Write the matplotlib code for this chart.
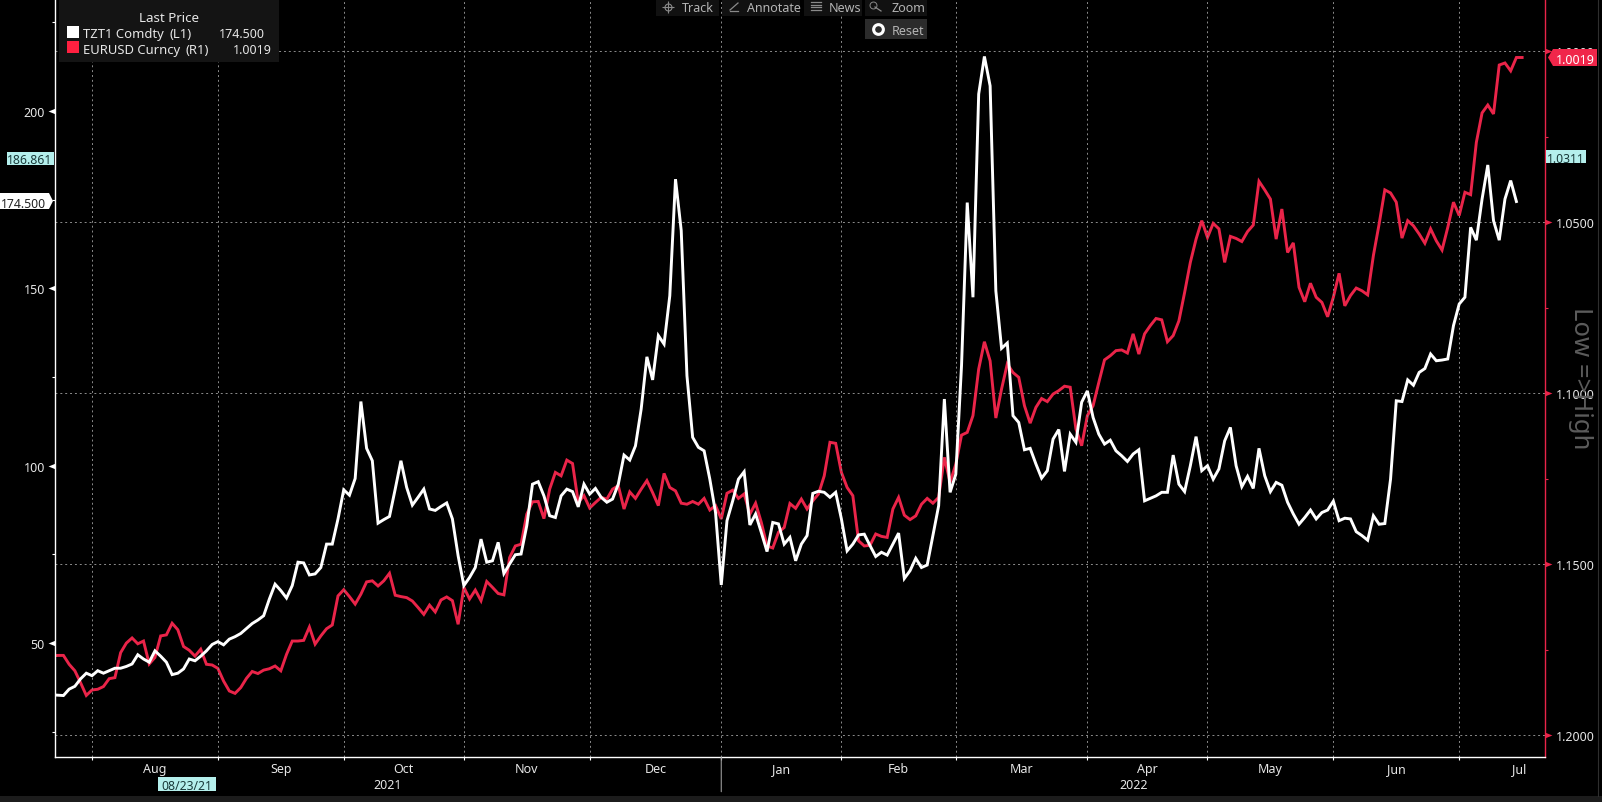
# TZT1 Comdty vs EURUSD Curncy, Bloomberg style chart
import pandas as pd
import matplotlib
matplotlib.use("Agg")
import matplotlib.pyplot as plt
from matplotlib.patches import Polygon, Rectangle

# --- DATA ---
START_DATE = '2021-07-22'
tzt1 = [
    35.4, 35.3, 35.2, 37.0, 37.8, 39.9, 41.5, 40.8, 42.2, 41.5,
    42.2, 42.9, 42.9, 43.4, 44.1, 46.7, 45.5, 44.6, 47.8, 46.3,
    44.6, 41.1, 41.5, 42.7, 45.5, 45.0, 46.3, 47.8, 49.6, 50.4,
    49.5, 51.1, 51.8, 52.7, 54.1, 55.5, 56.5, 57.7, 62.4, 66.6,
    64.8, 62.7, 66.2, 72.8, 72.6, 69.2, 69.5, 71.3, 77.9, 77.9,
    85.0, 93.2, 91.7, 96.4, 118.1, 104.9, 101.4, 83.8, 84.8, 85.7,
    93.4, 101.4, 93.9, 88.9, 91.1, 93.4, 87.8, 87.4, 88.5, 89.5,
    85.0, 74.6, 66.2, 68.5, 71.3, 79.3, 72.8, 73.2, 78.4, 69.6,
    72.3, 74.9, 75.1, 83.1, 94.8, 95.5, 91.5, 85.9, 85.4, 91.5,
    93.4, 92.7, 88.4, 94.8, 92.0, 93.6, 91.1, 89.7, 90.6, 94.8,
    103.0, 101.6, 105.6, 116.0, 130.7, 124.2, 136.7, 134.3, 147.9, 180.8,
    166.3, 125.4, 108.0, 105.2, 104.2, 96.2, 86.8, 66.4, 84.5, 90.1,
    96.2, 98.3, 83.3, 86.4, 81.2, 75.8, 84.0, 83.6, 77.9, 79.8,
    73.2, 77.9, 80.3, 92.2, 92.8, 92.5, 91.1, 92.5, 85.0, 76.0,
    77.9, 80.5, 80.7, 77.5, 74.4, 75.6, 74.8, 77.9, 81.0, 68.2,
    70.4, 73.9, 71.3, 72.0, 80.3, 88.7, 118.8, 92.5, 97.6, 128.2,
    174.2, 147.5, 204.8, 215.4, 207.1, 149.3, 133.1, 134.6, 114.1, 112.2,
    104.5, 104.9, 100.5, 96.5, 98.6, 107.5, 110.2, 98.4, 108.9, 106.6,
    117.9, 121.1, 113.6, 108.9, 106.1, 107.2, 104.2, 102.8, 101.2, 103.3,
    104.5, 90.1, 90.8, 91.5, 92.5, 92.5, 103.0, 94.8, 92.7, 100.0,
    108.2, 98.6, 100.0, 96.2, 99.1, 107.0, 110.8, 100.0, 94.1, 97.0,
    93.6, 104.9, 97.2, 92.7, 95.3, 94.5, 89.7, 86.4, 83.5, 85.4,
    87.5, 85.0, 86.8, 87.5, 90.0, 84.5, 85.2, 85.0, 81.4, 80.3,
    79.0, 85.9, 83.5, 83.7, 96.2, 118.3, 118.1, 124.2, 122.7, 126.3,
    127.4, 131.5, 129.6, 129.8, 130.1, 139.5, 145.6, 147.5, 167.2, 163.6,
    175.2, 184.8, 169.1, 163.6, 175.2, 180.4, 174.5,
]
eurusd = [
    1.1769, 1.1767, 1.1767, 1.1793, 1.1812, 1.1847, 1.1884, 1.1868, 1.1866, 1.1858,
    1.1835, 1.1832, 1.1759, 1.1731, 1.1716, 1.1733, 1.1725, 1.1792, 1.1773, 1.1710,
    1.1707, 1.1673, 1.1692, 1.1741, 1.1752, 1.1769, 1.1749, 1.1793, 1.1795, 1.1805,
    1.1842, 1.1871, 1.1878, 1.1861, 1.1834, 1.1814, 1.1820, 1.1810, 1.1806, 1.1798,
    1.1812, 1.1764, 1.1725, 1.1725, 1.1723, 1.1684, 1.1734, 1.1710, 1.1689, 1.1678,
    1.1593, 1.1575, 1.1595, 1.1617, 1.1588, 1.1552, 1.1549, 1.1564, 1.1549, 1.1527,
    1.1591, 1.1595, 1.1598, 1.1608, 1.1627, 1.1647, 1.1620, 1.1640, 1.1605, 1.1596,
    1.1607, 1.1676, 1.1568, 1.1602, 1.1576, 1.1607, 1.1551, 1.1568, 1.1586, 1.1590,
    1.1481, 1.1447, 1.1442, 1.1354, 1.1318, 1.1317, 1.1367, 1.1281, 1.1232, 1.1242,
    1.1196, 1.1206, 1.1320, 1.1300, 1.1336, 1.1320, 1.1305, 1.1310, 1.1281, 1.1271,
    1.1339, 1.1289, 1.1308, 1.1281, 1.1256, 1.1291, 1.1329, 1.1235, 1.1276, 1.1286,
    1.1322, 1.1325, 1.1317, 1.1325, 1.1308, 1.1342, 1.1329, 1.1368, 1.1293, 1.1284,
    1.1308, 1.1295, 1.1354, 1.1322, 1.1378, 1.1447, 1.1453, 1.1407, 1.1393, 1.1323,
    1.1337, 1.1310, 1.1339, 1.1315, 1.1295, 1.1242, 1.1144, 1.1147, 1.1232, 1.1276,
    1.1300, 1.1432, 1.1447, 1.1445, 1.1412, 1.1419, 1.1422, 1.1339, 1.1305, 1.1357,
    1.1370, 1.1359, 1.1325, 1.1308, 1.1322, 1.1305, 1.1188, 1.1261, 1.1208, 1.1123,
    1.1115, 1.1066, 1.0930, 1.0850, 1.0906, 1.1073, 1.0988, 1.0915, 1.0940, 1.0954,
    1.1037, 1.1088, 1.1042, 1.1016, 1.1025, 1.1003, 1.0993, 1.0980, 1.0983, 1.1105,
    1.1154, 1.1066, 1.1037, 1.0969, 1.0903, 1.0891, 1.0876, 1.0874, 1.0883, 1.0827,
    1.0886, 1.0827, 1.0803, 1.0782, 1.0786, 1.0850, 1.0832, 1.0789, 1.0706, 1.0618,
    1.0550, 1.0496, 1.0545, 1.0504, 1.0520, 1.0618, 1.0542, 1.0548, 1.0557, 1.0528,
    1.0509, 1.0381, 1.0406, 1.0433, 1.0550, 1.0462, 1.0589, 1.0561, 1.0691, 1.0733,
    1.0679, 1.0720, 1.0735, 1.0777, 1.0720, 1.0650, 1.0745, 1.0715, 1.0693, 1.0701,
    1.0713, 1.0598, 1.0506, 1.0406, 1.0415, 1.0442, 1.0547, 1.0496, 1.0511, 1.0535,
    1.0562, 1.0520, 1.0555, 1.0582, 1.0516, 1.0442, 1.0481, 1.0413, 1.0420, 1.0267,
    1.0181, 1.0158, 1.0184, 1.0041, 1.0035, 1.0058, 1.0019, 1.0019,
]
left_major = [50, 100, 150, 200]
left_minor = [25, 75, 125, 175, 225]
right_major = [1.00, 1.05, 1.10, 1.15, 1.20]
right_minor = [1.025, 1.075, 1.125, 1.175]

WHITE = '#ffffff'
RED = '#ea2449'
TEXT = '#e6e6e6'
CYAN = '#b4efec'
GRID = '#8c8c8c'
W, H = 1602, 803
MID = 'center_baseline'

plt.rcParams['font.family'] = 'Noto Sans'

# --- X POSITIONS: business day index, months from the calendar ---
days = pd.bdate_range(START_DATE, '2022-08-31')
month_starts = [i for i in range(1, len(days)) if days[i].month != days[i - 1].month]
month_names = [days[i].strftime('%b') for i in month_starts[:-1]]
month_mids = [(month_starts[k] + month_starts[k + 1]) / 2 for k in range(len(month_starts) - 1)]
year_split = [i for i in month_starts if days[i].year == 2022][0]

# --- AXES ---
fig = plt.figure(figsize=(W / 100, H / 100), dpi=100, facecolor='black')
rect = [54.5 / W, (H - 758) / H, (1545 - 54.5) / W, 758 / H]
ax = fig.add_axes(rect)
ax2 = ax.twinx()
ax.set_zorder(2)
ax2.set_zorder(1)
ax.patch.set_visible(False)
ax2.patch.set_facecolor('black')

x_lim = (0.44, 261.0)
ax2.plot(range(len(eurusd)), eurusd, color=RED, lw=2.1, solid_joinstyle='miter')
ax.plot(range(len(tzt1)), tzt1, color=WHITE, lw=2.1, solid_joinstyle='miter')

# --- GRID, SPINES, TICKS ---
dots = dict(color=GRID, lw=0.7, ls=(0, (2, 3)))
ax.set_xticks([i for i in month_starts if i < x_lim[1]])
ax.set_xticklabels([])
ax.xaxis.grid(True, **dots)
ax.set_axisbelow(True)
ax2.set_yticks(right_major)
ax2.set_yticklabels([])
ax2.yaxis.grid(True, **dots)

ax.set_xlim(x_lim)
ax.set_ylim(17.87, 231.6)
ax2.set_ylim(1.2064, 0.9848)

for side in ['top', 'right']:
    ax.spines[side].set_visible(False)
for side in ['top', 'left', 'bottom']:
    ax2.spines[side].set_visible(False)
ax.spines['left'].set_color(WHITE)
ax.spines['bottom'].set_color(WHITE)
ax2.spines['right'].set_color(RED)
for s in [ax.spines['left'], ax.spines['bottom'], ax2.spines['right']]:
    s.set_linewidth(1.0)

ax.tick_params(axis='x', which='major', color=WHITE, length=2.5, width=0.8)
ax.set_yticks(left_major)
ax.set_yticks(left_minor, minor=True)
ax.set_yticklabels([])
ax.tick_params(axis='y', which='major', length=0)
ax.tick_params(axis='y', which='minor', color=WHITE, length=2.5, width=0.8)
ax2.set_yticks(right_minor, minor=True)
ax2.set_yticklabels([], minor=True)
ax2.tick_params(axis='y', which='major', length=0)
ax2.tick_params(axis='y', which='minor', color=RED, length=2.5, width=0.8)

left_edge = ax.get_yaxis_transform()
right_edge = ax2.get_yaxis_transform()
left_tri = [(-1, 0), (0, 0.4), (0, -0.4)]
right_tri = [(1, 0), (0, 0.4), (0, -0.4)]
for v in left_major:
    ax.plot([0], [v], transform=left_edge, marker=left_tri, ms=10, mew=0, color=WHITE, clip_on=False)
    ax.annotate(str(v), (0, v), xycoords=left_edge, xytext=(-7, 0), textcoords='offset points',
                ha='right', va=MID, color=TEXT, fontsize=9)
for v in right_major:
    ax2.plot([1], [v], transform=right_edge, marker=right_tri, ms=10, mew=0, color=RED, clip_on=False)
    ax2.annotate('%.4f' % v, (1, v), xycoords=right_edge, xytext=(7.5, 0), textcoords='offset points',
                 ha='left', va=MID, color=TEXT, fontsize=9)

# month and year labels below the axis
for name, mid in zip(month_names, month_mids):
    ax.annotate(name, (mid, 0), xycoords=ax.get_xaxis_transform(), xytext=(0, -7.5),
                textcoords='offset points', ha='center', va=MID, color=TEXT, fontsize=9)
ax.annotate('2021', ((x_lim[0] + year_split) / 2, 0), xycoords=ax.get_xaxis_transform(), xytext=(0, -19),
            textcoords='offset points', ha='center', va=MID, color=TEXT, fontsize=9)
ax.annotate('2022', ((x_lim[1] + year_split) / 2, 0), xycoords=ax.get_xaxis_transform(), xytext=(0, -19),
            textcoords='offset points', ha='center', va=MID, color=TEXT, fontsize=9)
ax.annotate('', (year_split, 0), xycoords=ax.get_xaxis_transform(), xytext=(0, -25),
            textcoords='offset points', arrowprops=dict(arrowstyle='-', color='#9a9a9a', lw=0.8, shrinkA=0, shrinkB=0))

# --- OVERLAY: legend, tags, toolbar in screen pixels ---
ov = fig.add_axes([0, 0, 1, 1], zorder=5)
ov.set_xlim(0, W)
ov.set_ylim(H, 0)
ov.axis('off')

ov.text(1580, 378, 'Low =>High', rotation=-90, ha='center', va='center', color='#5c5c5c', fontsize=18.5)

# legend box
ov.add_patch(Rectangle((59, 0), 220, 63, fc='#141414', ec='none'))
ov.text(169, 17, 'Last Price', ha='center', va=MID, color=TEXT, fontsize=9.6)
ov.add_patch(Rectangle((67, 27), 12, 11.5, fc=WHITE, ec='none'))
ov.add_patch(Rectangle((67, 42), 12, 12, fc='#ff2040', ec='none'))
ov.text(83, 33, 'TZT1 Comdty', va=MID, color=TEXT, fontsize=9.4)
ov.text(170, 33, '(L1)', va=MID, color=TEXT, fontsize=9.4)
ov.text(83, 49, 'EURUSD Curncy', va=MID, color=TEXT, fontsize=9.4)
ov.text(185, 49, '(R1)', va=MID, color=TEXT, fontsize=9.4)
ov.text(265, 33, '174.500', ha='right', va=MID, color=TEXT, fontsize=9)
ov.text(272, 49, '1.0019', ha='right', va=MID, color=TEXT, fontsize=9)

# value tags on the axes
ov.add_patch(Rectangle((7, 153), 46.5, 12.5, fc=CYAN, ec='none'))
ov.text(30, 159.5, '186.861', ha='center', va=MID, color='#1a3a3a', fontsize=8.8)
ov.add_patch(Polygon([(0, 194), (49, 194), (53, 202), (49, 210), (0, 210)], fc=WHITE, ec='none'))
ov.text(24, 202.5, '174.500', ha='center', va=MID, color='#222222', fontsize=8.8)
ov.add_patch(Rectangle((1545.7, 151), 40, 13, fc=CYAN, ec='none'))
ov.text(1565.7, 158, '1.0311', ha='center', va=MID, color='#1a3a3a', fontsize=8.8)
ov.add_patch(Polygon([(1548, 58.5), (1553, 50), (1597, 50), (1597, 67), (1553, 67)], fc='#f0264a', ec='none'))
ov.text(1575, 59, '1.0019', ha='center', va=MID, color=WHITE, fontsize=9)
ov.add_patch(Rectangle((158, 778), 58, 14, fc=CYAN, ec='none'))
ov.text(187, 785.5, '08/23/21', ha='center', va=MID, color='#1a3a3a', fontsize=8.8)

# toolbar buttons
for x0, x1 in [(656, 719), (722, 800), (804, 862), (865, 927)]:
    ov.add_patch(Rectangle((x0, 0), x1 - x0, 17, fc='#111111', ec='none'))
ov.add_patch(Rectangle((864.5, 19.5), 62.5, 20.5, fc='#2b2b2b', ec='none'))
for label, x0, y0 in [('Track', 682, 7.5), ('Annotate', 747, 7.5), ('News', 829, 7.5), ('Zoom', 891, 7.5), ('Reset', 892, 30)]:
    ov.text(x0, y0, label, va=MID, color='#b4b4b4', fontsize=9)
ov.plot([668], [7.5], marker='+', ms=9, mew=0.8, color='#8a8a8a')
ov.plot([668], [7.5], marker='o', ms=5, mew=0.8, mfc='none', color='#8a8a8a')
ov.plot([730, 738], [11, 4], color='#8a8a8a', lw=0.9)
ov.plot([730, 738], [12, 12], color='#8a8a8a', lw=0.9)
for y0 in [3, 5.5, 8, 10.5]:
    ov.plot([811, 821], [y0, y0], color='#8a8a8a', lw=0.9)
ov.plot([873], [6], marker='o', ms=5, mew=0.7, mfc='none', color='#8a8a8a')
ov.plot([875, 881], [8, 12], color='#8a8a8a', lw=0.9)
ov.plot([878], [30], marker='o', ms=7, mew=2.2, mfc='#2b2b2b', color=WHITE)

# window frame bits at the edge
ov.add_patch(Rectangle((0, 797), W, 6, fc='#1c1c1c', ec='none'))
ov.plot([1598, 1598], [0, 797], color='#2e2e2e', lw=0.8)

plt.savefig('out.png', dpi=100, facecolor='black')
